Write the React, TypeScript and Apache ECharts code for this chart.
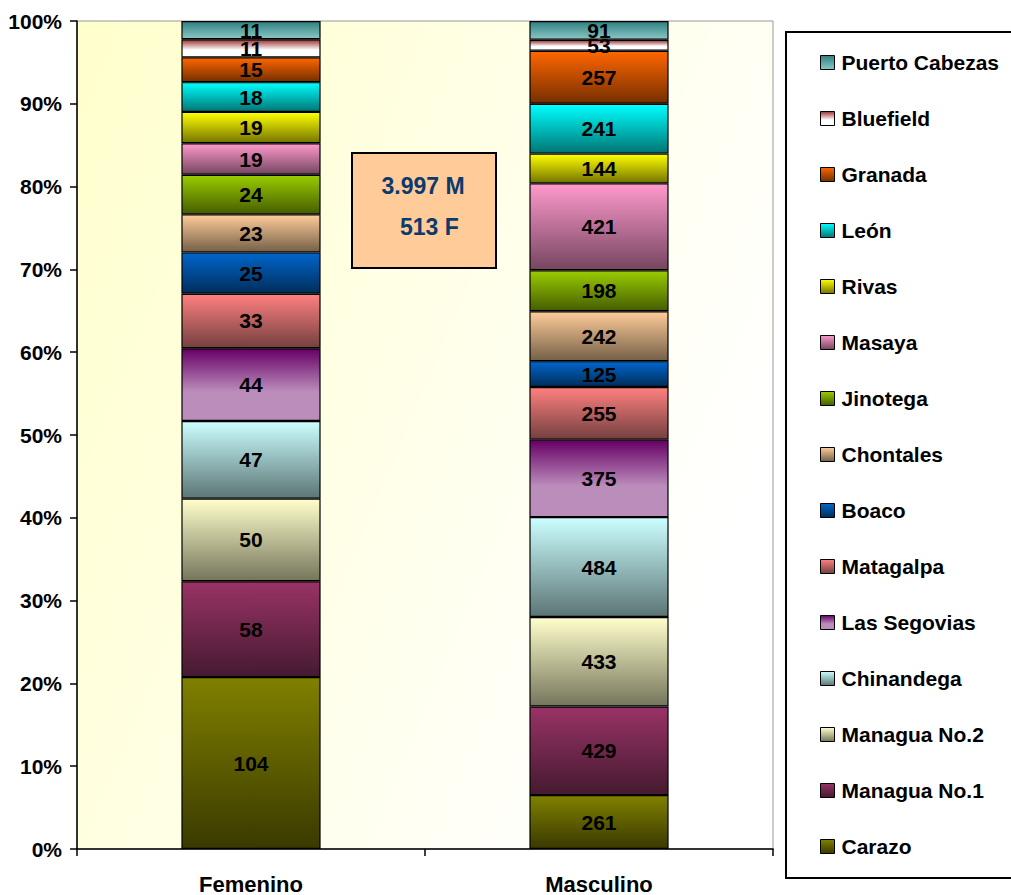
import React, { useEffect, useRef } from 'react';
import * as echarts from 'echarts';

const categories = ['Femenino', 'Masculino'];
const seriesNames = [
  'Carazo', 'Managua No.1', 'Managua No.2', 'Chinandega', 'Las Segovias', 'Matagalpa', 'Boaco',
  'Chontales', 'Jinotega', 'Masaya', 'Rivas', 'León', 'Granada', 'Bluefield', 'Puerto Cabezas',
];
const femenino = [104, 58, 50, 47, 44, 33, 25, 23, 24, 19, 19, 18, 15, 11, 11];
const masculino = [261, 429, 433, 484, 375, 255, 125, 242, 198, 421, 144, 241, 257, 53, 91];
const yTickValues = [0, 10, 20, 30, 40, 50, 60, 70, 80, 90, 100];
const noteLines = ['3.997 M', '  513 F'];

const gradients: [number, string][][] = [
  [[0, '#808000'], [1, '#3a3a00']],
  [[0, '#993366'], [1, '#451a30']],
  [[0, '#FFFFCC'], [1, '#75755c']],
  [[0, '#CCFFFF'], [1, '#5c7575']],
  [[0, '#660066'], [0.6, '#bb8dbb'], [1, '#bb8dbb']],
  [[0, '#FF8080'], [1, '#754040']],
  [[0, '#0066CC'], [1, '#002e5c']],
  [[0, '#FFCC99'], [1, '#756048']],
  [[0, '#99CC00'], [1, '#465e00']],
  [[0, '#FF99CC'], [1, '#754660']],
  [[0, '#FFFF00'], [1, '#757500']],
  [[0, '#00FFFF'], [1, '#007575']],
  [[0, '#FF6600'], [1, '#752f00']],
  [[0, '#993333'], [0.6, '#ffffff'], [1, '#ffffff']],
  [[0, '#2e8080'], [1, '#8cc6c6']],
];

const FONT = '"Liberation Sans", Arial, sans-serif';

export default function App() {
  const ref = useRef<HTMLDivElement>(null);
  useEffect(() => {
    document.body.style.margin = '0';
    const chart = echarts.init(ref.current!, null, { renderer: 'svg' });
    const raw = [femenino, masculino];
    const totals = raw.map((a) => a.reduce((s, v) => s + v, 0));
    const series = seriesNames.map((name, i) => ({
      name,
      type: 'bar',
      stack: 'total',
      barWidth: '40%',
      data: raw.map((arr, c) => (arr[i] / totals[c]) * 100),
      itemStyle: {
        color: new echarts.graphic.LinearGradient(0, 0, 0, 1, gradients[i].map(([offset, color]) => ({ offset, color }))),
        borderColor: '#000',
        borderWidth: 1.2,
      },
      label: {
        show: true,
        position: 'inside',
        formatter: (p: any) => String(raw[p.dataIndex][i]),
        color: '#000',
        fontSize: 21,
        fontWeight: 'bold',
        fontFamily: FONT,
      },
      emphasis: { disabled: true },
    }));

    chart.setOption({
      animation: false,
      grid: {
        left: 77,
        right: 238,
        top: 21,
        bottom: 44,
        show: true,
        borderColor: '#999',
        borderWidth: 1,
        backgroundColor: new echarts.graphic.LinearGradient(0, 0, 1, 0.5, [
          { offset: 0, color: '#FFFFCC' },
          { offset: 1, color: '#FFFFFF' },
        ]),
      },
      xAxis: {
        type: 'category',
        data: categories,
        axisLine: { lineStyle: { color: '#000', width: 1.5 } },
        axisTick: { show: true, length: 7, lineStyle: { color: '#000', width: 1.5 } },
        axisLabel: { color: '#000', fontSize: 22, fontWeight: 'bold', fontFamily: FONT, margin: 24 },
      },
      yAxis: {
        type: 'value',
        min: 0,
        max: 100,
        interval: 10,
        axisLine: { show: true, lineStyle: { color: '#000', width: 1.5 } },
        axisTick: { show: true, length: 7, lineStyle: { color: '#000', width: 1.5 } },
        splitLine: { show: false },
        axisLabel: {
          color: '#000',
          fontSize: 21,
          fontWeight: 'bold',
          fontFamily: FONT,
          margin: 15,
          customValues: yTickValues,
          formatter: '{value}%',
        },
      },
      legend: {
        data: [...seriesNames].reverse(),
        orient: 'vertical',
        left: 820,
        top: 52,
        padding: 0,
        itemWidth: 14,
        itemHeight: 14,
        itemGap: 35,
        icon: 'rect',
        selectedMode: false,
        itemStyle: { borderColor: '#000', borderWidth: 1 },
        textStyle: { color: '#000', fontSize: 21, fontWeight: 'bold', fontFamily: FONT, padding: [0, 0, 0, 2] },
      },
      graphic: [
        {
          type: 'rect',
          z: -1,
          shape: { x: 786, y: 32, width: 230, height: 846 },
          style: { fill: '#fff', stroke: '#000', lineWidth: 2 },
        },
        {
          type: 'group',
          z: 100,
          children: [
            {
              type: 'rect',
              shape: { x: 352, y: 153, width: 144, height: 115 },
              style: { fill: '#FFCC99', stroke: '#000', lineWidth: 2 },
            },
            {
              type: 'text',
              x: 423,
              y: 186,
              style: { text: noteLines[0], fill: '#0b3a6e', font: `bold 23px ${FONT}`, align: 'center', verticalAlign: 'middle' },
            },
            {
              type: 'text',
              x: 423,
              y: 227,
              style: { text: noteLines[1], fill: '#0b3a6e', font: `bold 23px ${FONT}`, align: 'center', verticalAlign: 'middle' },
            },
          ],
        },
      ],
      series,
    });
    return () => chart.dispose();
  }, []);
  return <div ref={ref} style={{ width: 1011, height: 895 }} />;
}
